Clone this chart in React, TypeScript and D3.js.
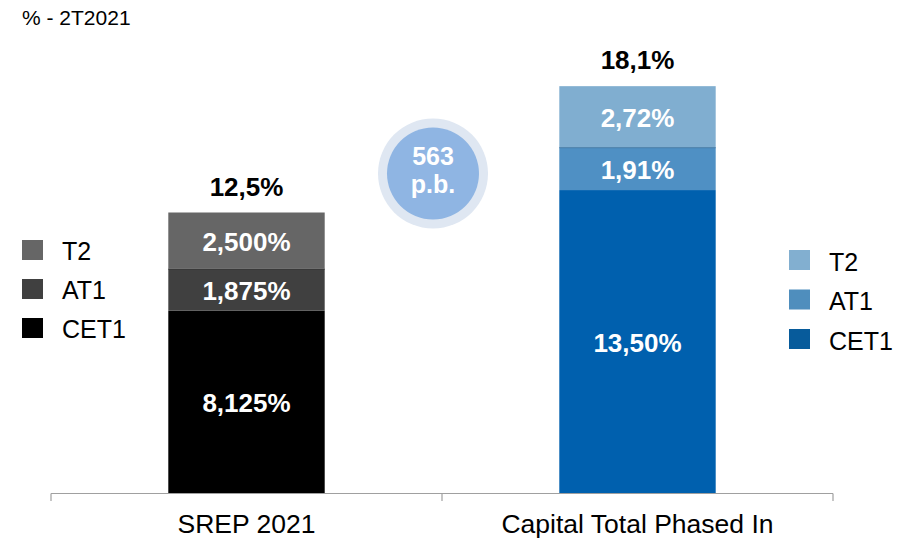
import React from 'react'
import * as d3 from 'd3'

const width = 910
const height = 540

const categories = ['SREP 2021', 'Capital Total Phased In']
const layers = ['CET1', 'AT1', 'T2']
const cet1 = [8.125, 13.5]
const at1 = [1.875, 1.91]
const t2 = [2.5, 2.72]
const cet1Labels = ['8,125%', '13,50%']
const at1Labels = ['1,875%', '1,91%']
const t2Labels = ['2,500%', '2,72%']
const totalLabels = ['12,5%', '18,1%']
const legendItems = ['T2', 'AT1', 'CET1']
const bubbleText = ['563', 'p.b.']
const title = '% - 2T2021'

const greys: Record<string, string> = {CET1: '#000000', AT1: '#404040', T2: '#666666'}
const blues: Record<string, string> = {CET1: '#0060ae', AT1: '#4f90c4', T2: '#80aed0'}
const legendBlues: Record<string, string> = {CET1: '#075b9b', AT1: '#4f8ebd', T2: '#82afd0'}
const palettes = [greys, blues]

const font = '"Liberation Sans", Arial, sans-serif'

const rows = categories.map((c, i) => ({
  category: c,
  CET1: cet1[i],
  AT1: at1[i],
  T2: t2[i],
}))
const segLabels: Record<string, string[]> = {CET1: cet1Labels, AT1: at1Labels, T2: t2Labels}

const x = d3.scaleBand<string>().domain(categories).range([51, 833]).paddingInner(0).paddingOuter(0)
const y = d3.scaleLinear().domain([0, 20]).range([493, 44.2])
const barW = x.bandwidth() * 0.4

const stacked = d3.stack<any>().keys(layers)(rows)

const App = () => {
  const [x0, x1] = x.range()
  const tickXs = [x0, ...categories.slice(1).map(c => x(c) as number), x1]

  return (
    <svg
      width={width}
      height={height}
      style={{position: 'absolute', left: 0, top: 0, background: '#fff'}}
      fontFamily={font}
    >
      <text x={22} y={25} fontSize={21} fill="#000">
        {title}
      </text>

      {/* stacked bars */}
      {stacked.map(layer =>
        layer.map((d, i) => {
          const cx = (x(categories[i]) as number) + x.bandwidth() / 2
          const top = y(d[1])
          const bottom = y(d[0])
          const color = palettes[i][layer.key]
          return (
            <g key={layer.key + i}>
              <rect x={cx - barW / 2} y={top} width={barW} height={bottom - top} fill={color} />
              {layer.key === 'AT1' && (
                <line
                  x1={cx - barW / 2}
                  x2={cx + barW / 2}
                  y1={top + 0.5}
                  y2={top + 0.5}
                  stroke={d3.color(color)!.darker(0.6).toString()}
                  strokeWidth={1}
                />
              )}
              <text
                x={cx}
                y={(top + bottom) / 2}
                dy="0.39em"
                textAnchor="middle"
                fontSize={26}
                fontWeight="bold"
                fill="#fff"
              >
                {segLabels[layer.key][i]}
              </text>
            </g>
          )
        }),
      )}

      {/* totals */}
      {categories.map((c, i) => (
        <text
          key={c}
          x={(x(c) as number) + x.bandwidth() / 2}
          y={y(cet1[i] + at1[i] + t2[i]) - 17}
          textAnchor="middle"
          fontSize={26}
          fontWeight="bold"
          fill="#000"
        >
          {totalLabels[i]}
        </text>
      ))}

      {/* axis */}
      <g stroke="#a0a0a0" strokeWidth={1.2}>
        <line x1={x0} x2={x1} y1={493.5} y2={493.5} />
        {tickXs.map(t => (
          <line key={t} x1={t} x2={t} y1={493.5} y2={501} />
        ))}
      </g>
      {categories.map(c => (
        <text
          key={c}
          x={(x(c) as number) + x.bandwidth() / 2}
          y={533}
          textAnchor="middle"
          fontSize={26.5}
          fill="#000"
        >
          {c}
        </text>
      ))}

      {/* bubble */}
      <circle cx={433} cy={173.5} r={55} fill="#dfe7f2" />
      <circle cx={433} cy={173.5} r={46} fill="#8fb5e3" />
      <text textAnchor="middle" fontSize={25} fontWeight="bold" fill="#fff">
        <tspan x={433} y={165}>
          {bubbleText[0]}
        </tspan>
        <tspan x={433} y={193}>
          {bubbleText[1]}
        </tspan>
      </text>

      {/* left legend */}
      {legendItems.map((k, i) => (
        <g key={'l' + k} transform={`translate(22, ${240 + i * 39})`}>
          <rect width={21} height={20} fill={greys[k]} />
          <text x={40} y={20} fontSize={25} fill="#000">
            {k}
          </text>
        </g>
      ))}

      {/* right legend */}
      {legendItems.map((k, i) => (
        <g key={'r' + k} transform={`translate(789, ${250 + i * 39.5})`}>
          <rect width={21} height={20} fill={legendBlues[k]} />
          <text x={40} y={20.5} fontSize={25} fill="#000">
            {k}
          </text>
        </g>
      ))}
    </svg>
  )
}

export default App
